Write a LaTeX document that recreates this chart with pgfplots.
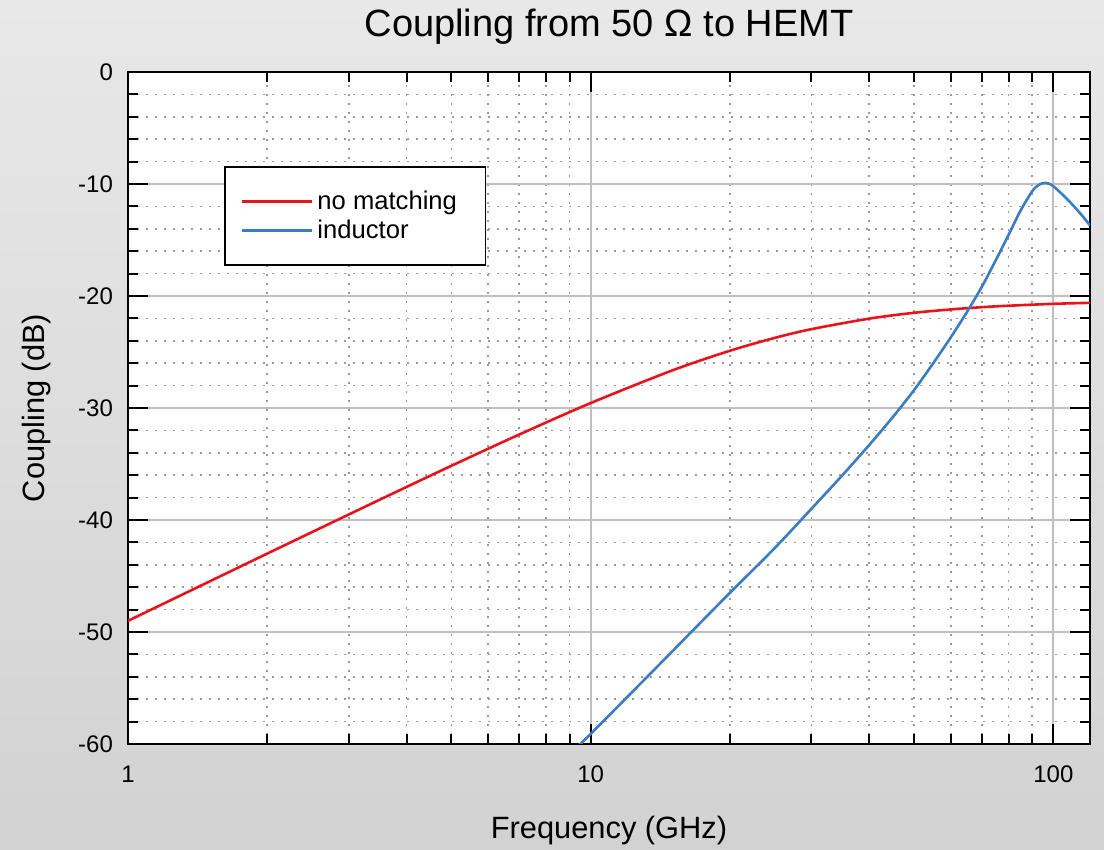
\documentclass[border=0pt]{standalone}
\usepackage{pgfplots}
\pgfplotsset{compat=1.18}
\usepackage{fontspec}
\setmainfont{Liberation Sans}
\definecolor{redline}{HTML}{E8141C}
\definecolor{blueline}{HTML}{3B7DBF}
\definecolor{bgtop}{HTML}{E8E8E8}
\definecolor{bgbot}{HTML}{D2D2D2}
\begin{document}
\begin{tikzpicture}
\shade[top color=bgtop, bottom color=bgbot, draw=none] (-64pt,-53pt) rectangle (488pt,372pt);
\begin{axis}[
  at={(0,0)}, anchor=south west,
  width=481pt, height=336pt, scale only axis,
  xmode=log, xmin=1, xmax=120,
  ymin=-60, ymax=0,
  xtick={1,10,100}, xticklabels={1,10,100},
  ytick={-60,-50,-40,-30,-20,-10,0},
  yticklabels={-60,-50,-40,-30,-20,-10,0},
  minor y tick num=4,
  /pgf/number format/assume math mode=true,
  tick label style={font=\fontsize{12}{14}\selectfont},
  xticklabel style={anchor=base, yshift=-19.5pt},
  yticklabel style={xshift=-4pt},
  grid=both,
  major grid style={color=black!25, line width=1pt},
  minor grid style={color=black!40, line width=0.8pt, dash pattern=on 0.9pt off 3.6pt},
  axis background/.style={fill=white},
  axis line style={line width=1.2pt, black},
  tick style={black, line width=1pt},
  major tick length=10pt, minor tick length=5pt,
  title={Coupling from 50 Ω to HEMT},
  title style={font=\fontsize{19}{23}\selectfont, inner sep=0pt, at={(axis description cs:0.5,1)}, anchor=base, yshift=11.5pt},
  xlabel={Frequency (GHz)},
  xlabel style={font=\fontsize{15.4}{18}\selectfont, inner sep=0pt, at={(axis description cs:0.5,0)}, anchor=base, yshift=-47.5pt},
  ylabel={Coupling (dB)},
  ylabel style={font=\fontsize{15.4}{18}\selectfont, inner sep=0pt, at={(axis description cs:-0.0863,0.5)}, anchor=base},
  legend style={at={(0.0998,0.860)}, anchor=north west, draw=black, line width=0.9pt, fill=white,
     font=\fontsize{12.8}{15}\selectfont, inner xsep=8pt, inner ysep=9.75pt, row sep=0pt},
  legend cell align=left,
  legend image code/.code={\draw[#1] (0pt,0pt) -- (30pt,0pt); \path (0pt,0pt) -- (35pt,0pt);},
]
\addplot[redline, line width=1.3pt, smooth] coordinates {
(1,-49.00) (1.25,-47.07) (1.5,-45.49) (2,-43.00) (3,-39.51) (4,-37.05) (5,-35.16) (7,-32.38)
(10,-29.56) (15,-26.65) (20,-24.89) (25,-23.74) (30,-22.96) (40,-22.02) (50,-21.50)
(60,-21.20) (70,-21.00) (80,-20.87) (100,-20.70) (120,-20.61)
};
\addlegendentry{\makebox[74pt][l]{no matching}}
\addplot[blueline, line width=1.3pt, smooth] coordinates {
(9.0,-60.9) (9.5,-60.0) (10,-59.1) (12,-55.8) (14,-53.0) (16.5,-50.0) (20,-46.5)
(25,-42.5) (30,-39.0) (35,-36.0) (40,-33.3) (45,-30.8) (50,-28.4) (55,-26.0)
(60,-23.7) (65,-21.45) (70,-19.2) (75,-16.85) (80,-14.55) (85,-12.35) (90,-10.65)
(92.5,-10.15) (95,-9.92) (97.5,-9.95) (100,-10.2) (105,-11.0) (110,-11.85)
(115,-12.75) (120,-13.7)
};
\addlegendentry{inductor}
\end{axis}
\end{tikzpicture}
\end{document}
